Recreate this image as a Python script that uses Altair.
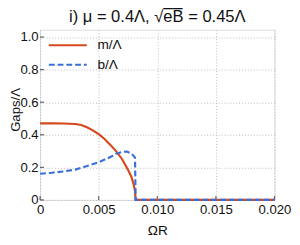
import altair as alt
import pandas as pd

# m/Λ curve
omega_m = [0, 0.001, 0.002, 0.003, 0.0035, 0.004, 0.0045, 0.005, 0.0055, 0.006,
           0.0065, 0.007, 0.0075, 0.0078, 0.008, 0.0081, 0.00815, 0.009, 0.02]
m_vals = [0.47, 0.47, 0.469, 0.466, 0.46, 0.446, 0.427, 0.404, 0.374, 0.338,
          0.298, 0.25, 0.185, 0.14, 0.09, 0.055, 0, 0, 0]

# b/Λ curve
omega_b = [0, 0.001, 0.002, 0.003, 0.004, 0.005, 0.006, 0.0065, 0.007, 0.0074,
           0.0078, 0.0081, 0.00815, 0.009, 0.02]
b_vals = [0.161, 0.167, 0.175, 0.186, 0.208, 0.232, 0.263, 0.284, 0.295, 0.297,
          0.285, 0.26, 0, 0, 0]

x_ticks = [0, 0.005, 0.010, 0.015, 0.020]
y_ticks = [0, 0.2, 0.4, 0.6, 0.8, 1.0]
series_labels = ["m/Λ", "b/Λ"]

RED = "#D5481C"
BLUE = "#3A6FD8"
FONT = "Liberation Sans"
W, H = 241, 175

df_m = pd.DataFrame({"x": omega_m, "y": m_vals})
df_b = pd.DataFrame({"x": omega_b, "y": b_vals})
df_xt = pd.DataFrame({"x": x_ticks})
df_yt = pd.DataFrame({"y": y_ticks})
one = pd.DataFrame({"k": [0]})

xs = alt.Scale(domain=[0, 0.02], nice=False)
ys = alt.Scale(domain=[0, 1.045], nice=False)

xaxis = alt.Axis(values=x_ticks, title="ΩR",
                 labelExpr="datum.value == 0 ? '0' : format(datum.value, '.3f')",
                 grid=True, gridDash=[1, 2], gridColor="#bbbbbb", ticks=False,
                 domain=False, labelFont=FONT, labelFontSize=13.5, labelColor="#111",
                 titleFont=FONT, titleFontSize=14, titleFontWeight="normal",
                 titleColor="#111", labelPadding=3, titlePadding=8, labelFlush=False,
                 labelOverlap=False)
yaxis = alt.Axis(values=y_ticks, title="Gaps/Λ",
                 labelExpr="datum.value == 0 ? '0' : format(datum.value, '.1f')",
                 grid=True, gridDash=[1, 2], gridColor="#bbbbbb", ticks=False,
                 domain=False, labelFont=FONT, labelFontSize=13.5, labelColor="#111",
                 titleFont=FONT, titleFontSize=13.5, titleFontWeight="normal",
                 titleColor="#111", labelPadding=2,
                 titleX=-32, titleY=82, titleAngle=270, titleBaseline="top",
                 titleAlign="center",
                 labelOverlap=False, labelFlush=False)

red = alt.Chart(df_m).mark_line(color=RED, strokeWidth=2.2).encode(
    x=alt.X("x:Q", scale=xs, axis=xaxis),
    y=alt.Y("y:Q", scale=ys, axis=yaxis),
)
blue = alt.Chart(df_b).mark_line(color=BLUE, strokeWidth=2.2, strokeDash=[6, 3]).encode(
    x=alt.X("x:Q", scale=xs, axis=xaxis),
    y=alt.Y("y:Q", scale=ys, axis=yaxis),
)

xt = alt.Chart(df_xt).mark_tick(color="#222", size=4, thickness=1.2).encode(
    x=alt.X("x:Q", scale=xs, axis=xaxis), y=alt.value(H - 2))
yt = alt.Chart(df_yt).mark_tick(color="#222", size=4, thickness=1.2).encode(
    y=alt.Y("y:Q", scale=ys, axis=yaxis), x=alt.value(2))

leg_red = alt.Chart(one).mark_rule(color=RED, strokeWidth=2.2).encode(
    x=alt.value(9), x2=alt.value(48), y=alt.value(16))
leg_blue = alt.Chart(one).mark_rule(color=BLUE, strokeWidth=2.2, strokeDash=[6, 3]).encode(
    x=alt.value(9), x2=alt.value(48), y=alt.value(36))
txt_red = alt.Chart(one).mark_text(text=series_labels[0], align="left", baseline="middle",
                                   font=FONT, fontSize=14, color="#111").encode(
    x=alt.value(59), y=alt.value(16))
txt_blue = alt.Chart(one).mark_text(text=series_labels[1], align="left", baseline="middle",
                                    font=FONT, fontSize=14, color="#111").encode(
    x=alt.value(59), y=alt.value(36))

chart = alt.layer(xt, yt, red, blue, leg_red, leg_blue, txt_red, txt_blue).properties(
    width=W, height=H,
    title=alt.TitleParams("i) μ = 0.4Λ, √e̅B̅ = 0.45Λ", font=FONT, fontSize=17,
                          fontWeight="normal", color="#111", offset=4),
    autosize=alt.AutoSizeParams(type="none"),
    padding={"left": 33, "top": 19, "right": 18, "bottom": 43},
).configure_view(stroke="#222", strokeWidth=1.5).configure(background="white")

chart.save("out.html", embed_options={"renderer": "svg", "actions": False})
